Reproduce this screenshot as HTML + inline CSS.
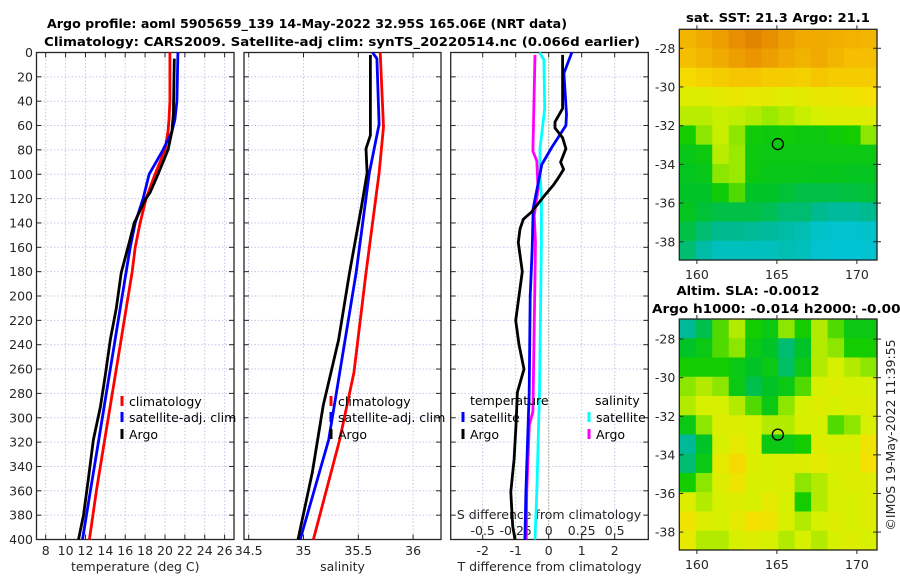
<!DOCTYPE html>
<html><head><meta charset="utf-8">
<style>
html,body{margin:0;padding:0;background:#fff;}
svg{display:block;font-family:"DejaVu Sans","Liberation Sans",sans-serif;}
</style></head>
<body>
<svg id="fig" width="900" height="580" viewBox="0 0 900 580" xmlns="http://www.w3.org/2000/svg">
<text x="307" y="28" font-size="12.5" font-weight="bold" text-anchor="middle" textLength="520" lengthAdjust="spacingAndGlyphs" fill="#000">Argo profile: aoml 5905659_139 14-May-2022 32.95S 165.06E (NRT data)</text>
<text x="342" y="46" font-size="12.5" font-weight="bold" text-anchor="middle" textLength="596" lengthAdjust="spacingAndGlyphs" fill="#000">Climatology: CARS2009. Satellite-adj clim: synTS_20220514.nc (0.066d earlier)</text>
<text x="778" y="22" font-size="12.5" font-weight="bold" text-anchor="middle" textLength="184" lengthAdjust="spacingAndGlyphs">sat. SST: 21.3 Argo: 21.1</text>
<text x="748" y="295" font-size="12.5" font-weight="bold" text-anchor="middle" textLength="143" lengthAdjust="spacingAndGlyphs">Altim. SLA: -0.0012</text>
<text x="652" y="313" font-size="12.5" font-weight="bold" textLength="258" lengthAdjust="spacingAndGlyphs">Argo h1000: -0.014 h2000: -0.007</text>
<text transform="translate(895,435) rotate(-90)" font-size="12.5" text-anchor="middle" fill="#262626">©IMOS 19-May-2022 11:39:55</text>
</svg>
<script>
// ---------- data ----------
const depthTicks = [0,20,40,60,80,100,120,140,160,180,200,220,240,260,280,300,320,340,360,380,400];
const tempTicks = [8,10,12,14,16,18,20,22,24,26];
const salTicks = [34.5,35,35.5,36];
const salTickLabels = ["34.5","35","35.5","36"];
const tdiffTicks = [-2,-1,0,1,2];
const sdiffTicks = [-0.5,-0.25,0,0.25,0.5];
const sdiffTickLabels = ["-0.5","-0.25","0","0.25","0.5"];

const tClimDepth = [0,40,55,65,80,100,120,140,160,180,200,240,280,320,360,400];
const tClim = [20.5,20.5,20.4,20.3,20.0,19.0,18.1,17.5,17.0,16.7,16.3,15.5,14.7,13.9,13.1,12.4];
const tSatDepth = [0,40,55,65,80,100,120,140,160,180,200,240,280,320,360,400];
const tSat = [21.3,21.2,21.0,20.7,19.8,18.4,17.8,17.0,16.5,16.1,15.7,14.9,14.1,13.3,12.5,11.7];
const tArgoDepth = [5,50,65,80,90,100,115,121,140,153,181,210,236,265,291,318,350,380,400];
const tArgo = [20.94,20.85,20.7,20.3,19.8,19.3,18.5,18.0,16.9,16.5,15.6,15.1,14.5,14.0,13.5,12.8,12.3,11.8,11.3];

const sClimDepth = [0,61,99,181,263,318,400];
const sClim = [35.70,35.73,35.69,35.57,35.46,35.33,35.09];
const sSatDepth = [0,5,59,99,181,263,318,400];
const sSat = [35.63,35.67,35.69,35.60,35.48,35.33,35.23,34.97];
const sArgoDepth = [2,68,79,99,126,181,236,290,345,400];
const sArgo = [35.61,35.61,35.57,35.58,35.53,35.42,35.32,35.18,35.08,34.95];

const dTSatDepth = [0,17,51,60,78,92,106,128,161,200,279,361,400];
const dTSat = [0.70,0.46,0.54,0.52,0.09,-0.21,-0.31,-0.47,-0.50,-0.56,-0.59,-0.69,-0.72];
const dTArgoDepth = [2,46,57,62,70,79,90,96,103,109,117,131,137,145,156,180,200,220,240,260,279,306,334,361,389,400];
const dTArgo = [0.42,0.42,0.19,0.19,0.42,0.52,0.36,0.45,0.29,0.14,-0.11,-0.52,-0.77,-0.87,-0.92,-0.80,-0.90,-1.0,-0.90,-0.75,-0.95,-0.99,-1.05,-1.15,-1.09,-1.02];
const dSArgoDepth = [2,81,89,112,134,156,295,306,361,400];
const dSArgo = [-0.104,-0.12,-0.09,-0.08,-0.11,-0.10,-0.12,-0.147,-0.167,-0.17];
const dSSatDepth = [0,6,46,79,99,118,156,279,361,400];
const dSSat = [-0.07,-0.036,-0.03,-0.066,-0.066,-0.055,-0.055,-0.07,-0.09,-0.104];

const latTicks = [-28,-30,-32,-34,-36,-38];
const lonTicks = [160,165,170];
const sstGrid = [
[0.82,0.85,0.88,0.92,0.95,0.92,0.88,0.85,0.85,0.84,0.83,0.82],
[0.80,0.82,0.85,0.88,0.90,0.88,0.85,0.83,0.85,0.82,0.80,0.80],
[0.72,0.74,0.76,0.78,0.78,0.76,0.76,0.75,0.78,0.76,0.76,0.76],
[0.62,0.62,0.64,0.66,0.65,0.64,0.63,0.64,0.66,0.66,0.68,0.70],
[0.56,0.56,0.58,0.57,0.55,0.52,0.55,0.58,0.60,0.62,0.62,0.62],
[0.40,0.50,0.58,0.50,0.38,0.36,0.38,0.36,0.36,0.38,0.40,0.50],
[0.34,0.36,0.56,0.52,0.36,0.35,0.35,0.35,0.35,0.35,0.35,0.35],
[0.32,0.34,0.50,0.52,0.36,0.34,0.34,0.34,0.33,0.33,0.32,0.32],
[0.30,0.30,0.38,0.45,0.30,0.30,0.28,0.26,0.26,0.26,0.27,0.28],
[0.32,0.28,0.26,0.26,0.26,0.24,0.20,0.20,0.16,0.14,0.14,0.16],
[0.26,0.20,0.16,0.16,0.15,0.14,0.12,0.10,0.06,0.05,0.05,0.06],
[0.20,0.12,0.08,0.08,0.08,0.08,0.10,0.08,0.05,0.04,0.04,0.05]];
const slaGrid = [
[0.15,0.25,0.45,0.55,0.40,0.35,0.50,0.40,0.55,0.45,0.35,0.35],
[0.30,0.35,0.45,0.50,0.35,0.30,0.20,0.30,0.55,0.50,0.40,0.40],
[0.40,0.40,0.40,0.35,0.30,0.35,0.22,0.35,0.55,0.60,0.55,0.50],
[0.50,0.55,0.50,0.35,0.25,0.30,0.35,0.45,0.60,0.62,0.60,0.60],
[0.55,0.60,0.60,0.55,0.45,0.35,0.50,0.60,0.62,0.60,0.62,0.62],
[0.35,0.50,0.62,0.62,0.60,0.55,0.55,0.60,0.60,0.45,0.50,0.60],
[0.15,0.30,0.60,0.65,0.60,0.35,0.35,0.40,0.62,0.60,0.60,0.68],
[0.20,0.35,0.65,0.72,0.62,0.60,0.62,0.62,0.65,0.62,0.62,0.70],
[0.40,0.50,0.62,0.68,0.60,0.60,0.62,0.50,0.55,0.60,0.62,0.62],
[0.62,0.55,0.60,0.62,0.60,0.65,0.60,0.40,0.55,0.60,0.60,0.62],
[0.68,0.62,0.60,0.65,0.70,0.68,0.60,0.55,0.60,0.62,0.60,0.62],
[0.65,0.55,0.55,0.60,0.62,0.60,0.55,0.60,0.55,0.60,0.62,0.60]];

// ---------- helpers ----------
const NS = "http://www.w3.org/2000/svg";
const svg = document.getElementById('fig');
function mk(tag, attrs, parent){
  const e = document.createElementNS(NS, tag);
  for (const k in attrs) e.setAttribute(k, attrs[k]);
  (parent || svg).appendChild(e);
  return e;
}
const Y0 = 52.5, YS = 1.2175;
const yD = d => Y0 + d * YS;
const xT = t => 45.7 + (t - 8) * 9.94;
const xS = s => 248.7 + (s - 34.5) * 109.6;
const xDT = t => 548.7 + t * 33.0;
const xDS = s => 548.7 + s * 132.0;
const INK = "#262626";
const FS = 12.5;

const panels = [
  {name:'temperature-panel', x0:36.5, x1:234, vt:tempTicks, vf:xT, labels:tempTicks.map(String), xlabel:'temperature (deg C)'},
  {name:'salinity-panel', x0:244, x1:441, vt:salTicks, vf:xS, labels:salTickLabels, xlabel:'salinity'},
  {name:'difference-panel', x0:450.7, x1:648.3, vt:tdiffTicks, vf:xDT, labels:tdiffTicks.map(String), xlabel:'T difference from climatology'}
];
const yTop = yD(0), yBot = yD(400);

panels.forEach((p, pi) => {
  const g = mk('g', {});
  
  
  depthTicks.forEach(d => {
    const l = mk('line', {x1:p.x0, x2:p.x1, y1:yD(d), y2:yD(d), stroke:'#c2c8e6', 'stroke-width':1, 'stroke-dasharray':'1.5,2'}, g);
    
    
    const t1 = mk('line', {x1:p.x0, x2:p.x0+5, y1:yD(d), y2:yD(d), stroke:INK, 'stroke-width':1}, g);
    
    
    const t2 = mk('line', {x1:p.x1-5, x2:p.x1, y1:yD(d), y2:yD(d), stroke:INK, 'stroke-width':1}, g);
    
    
  });
  p.vt.forEach((v, i) => {
    const x = p.vf(v);
    const zero = (pi === 2 && v === 0);
    const l = mk('line', {x1:x, x2:x, y1:yTop, y2:yBot, stroke: zero ? '#556b2f' : '#c2c8e6', 'stroke-width':1, 'stroke-dasharray': zero ? '1,2' : '1.5,2'}, g);
    
    
    const tk = mk('line', {x1:x, x2:x, y1:yBot-5, y2:yBot, stroke:INK, 'stroke-width':1}, g);
    
    
    const tk2 = mk('line', {x1:x, x2:x, y1:yTop, y2:yTop+5, stroke:INK, 'stroke-width':1}, g);
    
    
    const tl = mk('text', {x:x, y:555, 'font-size':FS, 'text-anchor':'middle', fill:INK}, g);
    tl.textContent = p.labels[i];
    
    
  });
  const xl = mk('text', {x:(p.x0+p.x1)/2, y:571, 'font-size':FS, 'text-anchor':'middle', fill:INK}, g);
  xl.textContent = p.xlabel;
  
  
  const box = mk('rect', {x:p.x0, y:yTop, width:p.x1-p.x0, height:yBot-yTop, fill:'none', stroke:INK, 'stroke-width':1.3}, g);
  
  
});
depthTicks.forEach(d => {
  const t = mk('text', {x:33, y:yD(d)+4.5, 'font-size':FS, 'text-anchor':'end', fill:INK});
  t.textContent = String(d);
  
  
});
sdiffTicks.forEach((v, i) => {
  const t = mk('text', {x:xDS(v), y:535, 'font-size':FS, 'text-anchor':'middle', fill:INK});
  t.textContent = sdiffTickLabels[i];
  
  
});
const sdt = mk('text', {x:549, y:519, 'font-size':FS, 'text-anchor':'middle', fill:INK});
sdt.textContent = 'S difference from climatology';



// ---------- lines ----------
function line(depths, vals, xf, color, name){
  const pts = depths.map((d, i) => xf(vals[i]).toFixed(1) + ',' + yD(d).toFixed(1)).join(' ');
  const pl = mk('polyline', {points:pts, fill:'none', stroke:color, 'stroke-width':2.8, 'stroke-linejoin':'round', 'stroke-linecap':'butt'});
  
  
}
line(tClimDepth, tClim, xT, '#ff0000', 'temp-climatology-line');
line(tSatDepth, tSat, xT, '#0000ff', 'temp-satellite-line');
line(tArgoDepth, tArgo, xT, '#000000', 'temp-argo-line');
line(sClimDepth, sClim, xS, '#ff0000', 'sal-climatology-line');
line(sSatDepth, sSat, xS, '#0000ff', 'sal-satellite-line');
line(sArgoDepth, sArgo, xS, '#000000', 'sal-argo-line');
line(dSSatDepth, dSSat, xDS, '#00ffff', 'sdiff-satellite-line');
line(dSArgoDepth, dSArgo, xDS, '#ff00ff', 'sdiff-argo-line');
line(dTSatDepth, dTSat, xDT, '#0000ff', 'tdiff-satellite-line');
line(dTArgoDepth, dTArgo, xDT, '#000000', 'tdiff-argo-line');

// ---------- legends ----------
function legendItem(x, y, color, label, name){
  const g = mk('g', {});
  
  
  if (color) {
    const m = mk('line', {x1:x, x2:x, y1:y-10, y2:y, stroke:color, 'stroke-width':3}, g);
    
    
  }
  const t = mk('text', {x: color ? x+7 : x, y:y, 'font-size':FS, fill:'#000'}, g);
  t.textContent = label;
  
  
}
legendItem(122, 406, '#ff0000', 'climatology', 'legend-temp-climatology');
legendItem(122, 422, '#0000ff', 'satellite-adj. clim', 'legend-temp-satellite');
legendItem(122, 439, '#000000', 'Argo', 'legend-temp-argo');
legendItem(331, 406, '#ff0000', 'climatology', 'legend-sal-climatology');
legendItem(331, 422, '#0000ff', 'satellite-adj. clim', 'legend-sal-satellite');
legendItem(331, 439, '#000000', 'Argo', 'legend-sal-argo');
legendItem(470, 405, null, 'temperature', 'legend-temperature-heading');
legendItem(463, 422, '#0000ff', 'satellite', 'legend-tdiff-satellite');
legendItem(463, 439, '#000000', 'Argo', 'legend-tdiff-argo');
legendItem(595, 405, null, 'salinity', 'legend-salinity-heading');
legendItem(589, 422, '#00ffff', 'satellite', 'legend-sdiff-satellite');
legendItem(589, 439, '#ff00ff', 'Argo', 'legend-sdiff-argo');

// ---------- maps ----------
const cmapStops = [[0,[0,200,235]],[0.15,[0,185,150]],[0.3,[0,195,40]],[0.4,[20,205,0]],[0.5,[140,230,0]],[0.6,[215,240,0]],[0.7,[245,225,0]],[0.8,[245,190,0]],[0.9,[235,150,0]],[1,[215,115,0]]];
function cmap(v){
  for (let i=1;i<cmapStops.length;i++){
    if (v <= cmapStops[i][0]){
      const a = cmapStops[i-1], b = cmapStops[i];
      const f = (v - a[0]) / (b[0] - a[0]);
      const c = a[1].map((q, k) => Math.round(q + (b[1][k]-q)*f));
      return 'rgb(' + c.join(',') + ')';
    }
  }
  return 'rgb(215,115,0)';
}
function drawMap(grid, box, name){
  const g = mk('g', {});
  
  
  const rows = grid.length, cols = grid[0].length;
  const cw = (box.x1-box.x0)/cols, ch = (box.y1-box.y0)/rows;
  grid.forEach((row, r) => row.forEach((v, c) => {
    const cell = mk('rect', {x:(box.x0+c*cw).toFixed(2), y:(box.y0+r*ch).toFixed(2), width:(cw+0.6).toFixed(2), height:(ch+0.6).toFixed(2), fill:cmap(v)}, g);
    
    
  }));
  const lonX = lon => box.x0 + (lon - box.lon0) * box.px;
  const latY = lat => box.y0 + (box.lat0 - lat) * box.py;
  latTicks.forEach(lat => {
    const y = latY(lat);
    const t1 = mk('line', {x1:box.x0, x2:box.x0+4, y1:y, y2:y, stroke:INK}, g);
    
    
    const t2 = mk('line', {x1:box.x1-4, x2:box.x1+4, y1:y, y2:y, stroke:INK}, g);
    
    
    const tl = mk('text', {x:box.x0-4, y:y+4.5, 'font-size':FS, 'text-anchor':'end', fill:INK}, g);
    tl.textContent = String(lat);
    
    
  });
  lonTicks.forEach(lon => {
    const x = lonX(lon);
    const t1 = mk('line', {x1:x, x2:x, y1:box.y1, y2:box.y1+4, stroke:INK}, g);
    
    
    const t3 = mk('line', {x1:x, x2:x, y1:box.y0-4, y2:box.y0, stroke:INK}, g);
    
    
    const tl = mk('text', {x:x, y:box.y1+19, 'font-size':FS, 'text-anchor':'middle', fill:INK}, g);
    tl.textContent = String(lon);
    
    
  });
  const circ = mk('circle', {cx:lonX(165.06), cy:latY(-32.95), r:5.5, fill:'none', stroke:'#000', 'stroke-width':1.3}, g);
  
  
  const fr = mk('rect', {x:box.x0, y:box.y0, width:box.x1-box.x0, height:box.y1-box.y0, fill:'none', stroke:INK, 'stroke-width':1.3}, g);
  
  
}
drawMap(sstGrid, {x0:679.3, x1:877, y0:29.3, y1:260, lon0:158.9, lat0:-27.02, px:16, py:19.35}, 'sst-map');
drawMap(slaGrid, {x0:679.3, x1:877, y0:319, y1:550, lon0:158.9, lat0:-26.96, px:16, py:19.3}, 'sla-map');
</script>
</body></html>
